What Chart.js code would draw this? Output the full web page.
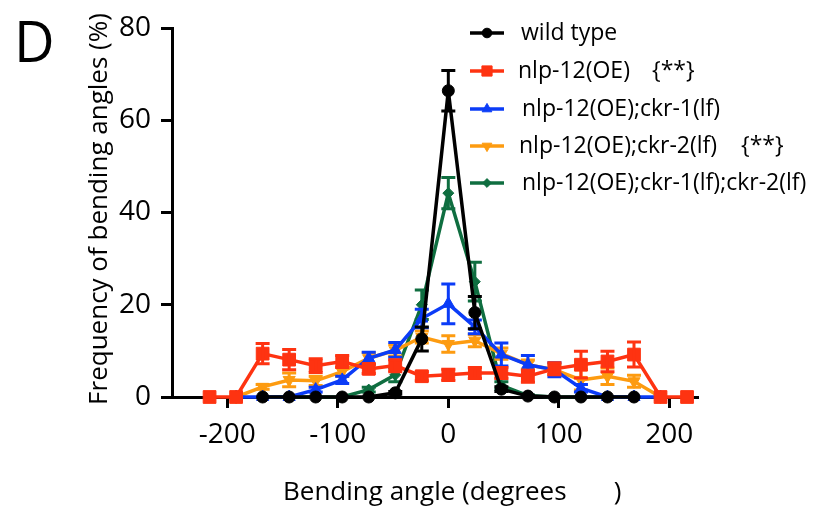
<!DOCTYPE html>
<html>
<head>
<meta charset="utf-8">
<script src="https://cdn.jsdelivr.net/npm/chart.js@4.4.1/dist/chart.umd.min.js"></script>
<style>
  body { margin: 0; background: #fff; }
  canvas { display: block; }
</style>
</head>
<body>
<canvas id="plot" width="817" height="508"></canvas>
<script>
// bending angle bins (degrees)
const angles = [-216, -192, -168, -144, -120, -96, -72, -48, -24, 0, 24, 48, 72, 96, 120, 144, 168, 192, 216];

const wildType    = [null, null, 0, 0, 0, 0, 0, 0.9, 12.6, 66.4, 18.3, 1.7, 0.2, 0, 0, 0, 0, null, null];
const wildTypeErr = [null, null, 0, 0, 0, 0, 0, 0.3, 2.6, 4.4, 3.5, 0.5, 0.1, 0, 0, 0, 0, null, null];

const nlp12    = [0, 0, 9.4, 8.1, 6.8, 7.7, 6.1, 6.8, 4.5, 4.8, 5.2, 5.2, 4.5, 6.1, 7.0, 7.7, 9.2, 0, 0];
const nlp12Err = [0, 0, 2.2, 2.2, 1.5, 1.3, 1.0, 1.3, 1.0, 1.2, 1.2, 1.2, 1.3, 1.3, 2.9, 2.2, 2.7, 0, 0];

const ckr1    = [null, 0, 0, 0, 1.6, 3.7, 8.4, 10.2, 17.0, 20.2, 15.2, 9.2, 7.0, 5.9, 1.9, 0, 0, 0, null];
const ckr1Err = [null, 0, 0, 0, 0.5, 0.8, 1.3, 1.6, 2.0, 4.3, 1.5, 2.5, 2.0, 1.5, 0.8, 0, 0, 0, null];

const ckr2    = [null, 0, 2.2, 3.7, 3.5, 5.5, 8.4, 10.1, 13.0, 11.5, 12.2, 9.4, 7.0, 5.9, 3.7, 4.5, 3.4, 0, null];
const ckr2Err = [null, 0, 0.5, 1.5, 1.0, 1.0, 1.2, 1.2, 1.3, 1.8, 1.3, 1.2, 1.0, 1.0, 2.2, 1.8, 1.3, 0, null];

const ckr12    = [null, null, 0, 0, 0, 0, 1.6, 4.8, 20.0, 44.2, 25.0, 2.5, 0.3, 0, 0, 0, 0, null, null];
const ckr12Err = [null, null, 0, 0, 0, 0, 0.5, 1.5, 3.2, 3.4, 4.2, 0.8, 0.2, 0, 0, 0, 0, null, null];

const xTicks = [-200, -100, 0, 100, 200];
const yTicks = [0, 20, 40, 60, 80];

const seriesNames = ["wild type", "nlp-12(OE)", "nlp-12(OE);ckr-1(lf)", "nlp-12(OE);ckr-2(lf)", "nlp-12(OE);ckr-1(lf);ckr-2(lf)"];
const seriesNotes = ["", "{**}", "", "{**}", ""];

const FONT = "'Open Sans', 'Noto Sans', sans-serif";

function points(vals) {
    let out = [];
    for (let i = 0; i < angles.length; i++) {
        if (vals[i] !== null) out.push({x: angles[i], y: vals[i]});
    }
    return out;
}

function errs(e) {
    return e.filter(v => v !== null);
}

function series(name, vals, err, color, style, radius, rotation) {
    return {
        label: name,
        data: points(vals),
        errors: errs(err),
        borderColor: color,
        backgroundColor: color,
        pointBackgroundColor: color,
        pointBorderColor: color,
        borderWidth: 3.5,
        pointStyle: style,
        pointRadius: radius,
        pointRotation: rotation || 0,
        pointBorderWidth: 1,
        tension: 0,
        clip: false
    };
}

const datasets = [
    series(seriesNames[0], wildType, wildTypeErr, '#000000', 'circle', 6),
    series(seriesNames[1], nlp12, nlp12Err, '#fe3311', 'rect', 9),
    series(seriesNames[2], ckr1, ckr1Err, '#0b3cf7', 'triangle', 7),
    series(seriesNames[3], ckr2, ckr2Err, '#fd9b10', 'triangle', 7, 180),
    series(seriesNames[4], ckr12, ckr12Err, '#0f6e40', 'rectRot', 5.5)
];

// error bars in each series colour
const errorBars = {
    id: 'errorBars',
    afterDatasetDraw(chart, args) {
        const ds = chart.data.datasets[args.index];
        const ctx = chart.ctx;
        const ys = chart.scales.y;
        ctx.save();
        ctx.strokeStyle = ds.borderColor;
        ctx.lineWidth = 3;
        args.meta.data.forEach((pt, i) => {
            const e = ds.errors[i];
            if (!e) return;
            const v = ds.data[i].y;
            const top = ys.getPixelForValue(v + e);
            const bot = ys.getPixelForValue(Math.max(0, v - e));
            ctx.beginPath();
            ctx.moveTo(pt.x, top); ctx.lineTo(pt.x, bot);
            ctx.moveTo(pt.x - 7, top); ctx.lineTo(pt.x + 7, top);
            ctx.moveTo(pt.x - 7, bot); ctx.lineTo(pt.x + 7, bot);
            ctx.stroke();
        });
        ctx.restore();
    }
};

// panel letter, axis titles and legend
const decorations = {
    id: 'decorations',
    afterDraw(chart) {
        const ctx = chart.ctx;
        ctx.save();
        ctx.fillStyle = '#000';

        ctx.font = "56px " + FONT;
        ctx.textAlign = 'left';
        ctx.textBaseline = 'alphabetic';
        ctx.fillText("D", 14, 62);

        ctx.font = "26px " + FONT;
        ctx.fillText("Bending angle (degrees       )", 283, 500);

        ctx.save();
        ctx.translate(100, 209);
        ctx.rotate(-Math.PI / 2);
        ctx.textAlign = 'center';
        ctx.textBaseline = 'middle';
        ctx.font = "26px " + FONT;
        ctx.fillText("Frequency of bending angles (%)", 0, 0);
        ctx.restore();

        const rowY = [33, 71, 109, 146, 183];
        const textX = [521, 518, 522, 519, 522];
        const noteX = [0, 652, 0, 741, 0];
        chart.data.datasets.forEach((ds, i) => {
            const y = rowY[i];
            ctx.strokeStyle = ds.borderColor;
            ctx.fillStyle = ds.borderColor;
            ctx.lineWidth = 3.5;
            ctx.beginPath();
            ctx.moveTo(470, y); ctx.lineTo(504, y);
            ctx.stroke();
            ctx.lineWidth = 1;
            Chart.helpers.drawPoint(ctx, {
                pointStyle: ds.pointStyle,
                rotation: ds.pointRotation,
                radius: ds.pointRadius * 0.8,
                borderWidth: 1
            }, 487, y);
            ctx.fillStyle = '#000';
            ctx.font = "23px " + FONT;
            ctx.textAlign = 'left';
            ctx.textBaseline = 'middle';
            ctx.fillText(ds.label, textX[i], y);
            if (seriesNotes[i]) ctx.fillText(seriesNotes[i], noteX[i], y);
        });
        ctx.restore();
    }
};

window.onload = function() {
    let ctx = document.getElementById('plot').getContext('2d');
    let plot = new Chart(ctx, {
        type: 'line',
        data: {datasets: datasets},
        plugins: [errorBars, decorations],
        options: {
            responsive: false,
            animation: false,
            layout: {padding: {top: 28, right: 120, left: 0, bottom: 0}},
            plugins: {
                legend: {display: false},
                tooltip: {enabled: false}
            },
            scales: {
                x: {
                    type: 'linear',
                    min: -250,
                    max: 225,
                    afterBuildTicks: s => { s.ticks = xTicks.map(v => ({value: v})); },
                    afterFit: s => { s.height = 111; },
                    ticks: {color: '#000', font: {family: FONT, size: 28}, padding: 10, maxRotation: 0},
                    grid: {drawOnChartArea: false, drawTicks: true, tickLength: 11, color: '#000', lineWidth: 3},
                    border: {color: '#000', width: 3}
                },
                y: {
                    min: 0,
                    max: 80,
                    afterBuildTicks: s => { s.ticks = yTicks.map(v => ({value: v})); },
                    afterFit: s => { s.width = 172; },
                    ticks: {color: '#000', font: {family: FONT, size: 28}, padding: 10},
                    grid: {drawOnChartArea: false, drawTicks: true, tickLength: 11, color: '#000', lineWidth: 3},
                    border: {color: '#000', width: 3}
                }
            }
        }
    });
}
</script>
</body>
</html>
